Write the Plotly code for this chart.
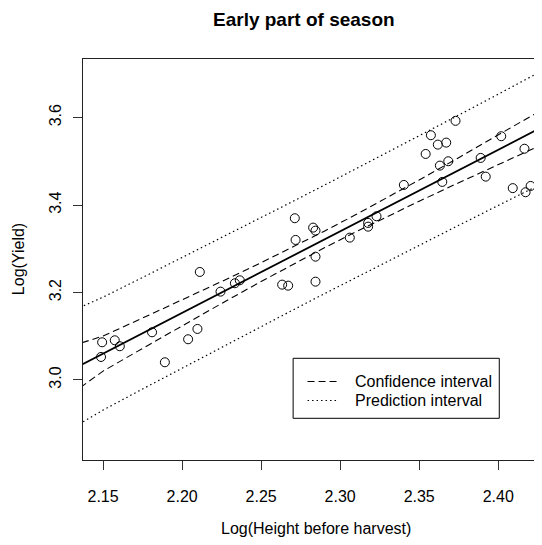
import plotly.graph_objects as go

log_height = [2.1494, 2.1574, 2.1606, 2.1487, 2.1810, 2.1891, 2.2038, 2.2097, 2.2112, 2.2243,
              2.2334, 2.2365, 2.2633, 2.2671, 2.2713, 2.2718, 2.2829, 2.2844, 2.2844, 2.2844,
              2.3061, 2.3177, 2.3177, 2.3230, 2.3403, 2.3541, 2.3574, 2.3618, 2.3671, 2.3631,
              2.3684, 2.3646, 2.3730, 2.3889, 2.3921, 2.4019, 2.4092, 2.4166, 2.4173, 2.4205]
log_yield = [3.0862, 3.0908, 3.0771, 3.0526, 3.1091, 3.0405, 3.0931, 3.1167, 3.2470, 3.2020,
             3.2212, 3.2280, 3.2180, 3.2157, 3.3699, 3.3202, 3.3484, 3.3415, 3.2820, 3.2248,
             3.3255, 3.3591, 3.3506, 3.3744, 3.4460, 3.5169, 3.5597, 3.5382, 3.5428, 3.4902,
             3.5002, 3.4529, 3.5926, 3.5078, 3.4650, 3.5574, 3.4387, 3.5288, 3.4293, 3.4437]

# Fitted line and bands
grid_x = [2.13, 2.15, 2.175, 2.20, 2.225, 2.25, 2.27, 2.29, 2.31, 2.33, 2.35, 2.375, 2.40, 2.44]
fit_y = [3.0230, 3.0603, 3.1069, 3.1535, 3.2001, 3.2467, 3.2840, 3.3213, 3.3585, 3.3958,
         3.4331, 3.4797, 3.5263, 3.6009]
conf_upper = [3.0777, 3.1004, 3.1416, 3.1831, 3.2252, 3.2682, 3.3037, 3.3403, 3.3782, 3.4173,
              3.4574, 3.5084, 3.5600, 3.6433]
conf_lower = [2.9683, 3.0202, 3.0722, 3.1239, 3.1750, 3.2252, 3.2643, 3.3023, 3.3388, 3.3743,
              3.4088, 3.4510, 3.4926, 3.5585]
pred_upper = [3.1573, 3.1894, 3.2344, 3.2797, 3.3253, 3.3713, 3.4082, 3.4454, 3.4827, 3.5204,
              3.5582, 3.6057, 3.6535, 3.7307]
pred_lower = [2.8887, 2.9312, 2.9794, 3.0273, 3.0749, 3.1221, 3.1598, 3.1972, 3.2343, 3.2712,
              3.3080, 3.3537, 3.3991, 3.4711]

x_ticks = [2.15, 2.20, 2.25, 2.30, 2.35, 2.40]
x_tick_labels = ["2.15", "2.20", "2.25", "2.30", "2.35", "2.40"]
y_ticks = [3.0, 3.2, 3.4, 3.6]
y_tick_labels = ["3.0", "3.2", "3.4", "3.6"]

FONT = "Liberation Sans, Arial, Helvetica, sans-serif"

fig = go.Figure()
fig.add_trace(go.Scatter(x=grid_x, y=pred_upper, mode="lines",
                         line=dict(color="black", width=1.2, dash="1.5px,3px"), showlegend=False))
fig.add_trace(go.Scatter(x=grid_x, y=pred_lower, mode="lines",
                         line=dict(color="black", width=1.2, dash="1.5px,3px"), showlegend=False))
fig.add_trace(go.Scatter(x=grid_x, y=conf_upper, mode="lines",
                         line=dict(color="black", width=1.1, dash="7px,4px"), showlegend=False))
fig.add_trace(go.Scatter(x=grid_x, y=conf_lower, mode="lines",
                         line=dict(color="black", width=1.1, dash="7px,4px"), showlegend=False))
fig.add_trace(go.Scatter(x=grid_x, y=fit_y, mode="lines",
                         line=dict(color="black", width=1.8), showlegend=False))
fig.add_trace(go.Scatter(x=log_height, y=log_yield, mode="markers",
                         marker=dict(symbol="circle-open", size=9, color="black", line=dict(width=1)),
                         showlegend=False))

# The page body adds an 8px offset; layout is expressed in screen pixels minus that offset
OFF = 8
W, H = 542 - OFF, 545 - 2 * OFF
L = 83.3 - OFF
T = 59 - OFF
B = H - (460 - OFF)
pw, ph = W - L, H - T - B

def px(xs):
    return (xs - OFF - L) / pw

def py(ys):
    return (H - B - (ys - OFF)) / ph

fig.update_layout(
    width=W, height=H,
    margin=dict(l=L, r=0, t=T, b=B, pad=0),
    plot_bgcolor="white", paper_bgcolor="white",
    font=dict(family=FONT, size=16, color="black"),
    xaxis=dict(range=[2.1373, 2.4277], tickvals=x_ticks, ticktext=x_tick_labels,
               showgrid=False, zeroline=False, showline=True, linecolor="#222", linewidth=1,
               mirror=True, ticks="outside", ticklen=9, tickcolor="#333", tickwidth=1,
               ticklabelstandoff=13, tickfont=dict(size=16, family=FONT)),
    yaxis=dict(range=[2.817, 3.734], tickvals=y_ticks, ticktext=y_tick_labels,
               showgrid=False, zeroline=False, showline=True, linecolor="#222", linewidth=1,
               mirror=False, ticks="outside", ticklen=9, tickcolor="#333", tickwidth=1,
               tickangle=-90, ticklabelstandoff=6, tickfont=dict(size=16, family=FONT)),
    showlegend=False,
)

# Titles
fig.add_annotation(text="<b>Early part of season</b>", xref="paper", yref="paper",
                   x=px(304.5), y=py(20), showarrow=False, xanchor="center", yanchor="middle",
                   font=dict(size=19, family=FONT))
fig.add_annotation(text="Log(Height before harvest)", xref="paper", yref="paper",
                   x=px(316), y=py(528), showarrow=False, xanchor="center", yanchor="middle",
                   font=dict(size=16, family=FONT))
fig.add_annotation(text="Log(Yield)", xref="paper", yref="paper",
                   x=px(19), y=py(259.5), showarrow=False, xanchor="center", yanchor="middle",
                   textangle=-90, font=dict(size=16, family=FONT))

# Legend box (drawn in R style)
fig.add_shape(type="rect", xref="paper", yref="paper",
              x0=px(293.3), x1=px(499.3), y0=py(418.3), y1=py(358.3),
              line=dict(color="black", width=1), fillcolor="white", layer="above")
fig.add_shape(type="line", xref="paper", yref="paper",
              x0=px(307.7), x1=px(337.7), y0=py(381.5), y1=py(381.5),
              line=dict(color="black", width=1.1, dash="7px,4px"), layer="above")
fig.add_shape(type="line", xref="paper", yref="paper",
              x0=px(307.7), x1=px(337.7), y0=py(400.5), y1=py(400.5),
              line=dict(color="black", width=1.2, dash="1.5px,3px"), layer="above")
fig.add_annotation(text="Confidence interval", xref="paper", yref="paper",
                   x=px(353), y=py(381.5), showarrow=False, xanchor="left", yanchor="middle",
                   font=dict(size=16, family=FONT))
fig.add_annotation(text="Prediction interval", xref="paper", yref="paper",
                   x=px(353), y=py(400.5), showarrow=False, xanchor="left", yanchor="middle",
                   font=dict(size=16, family=FONT))

fig.write_html("out.html")
